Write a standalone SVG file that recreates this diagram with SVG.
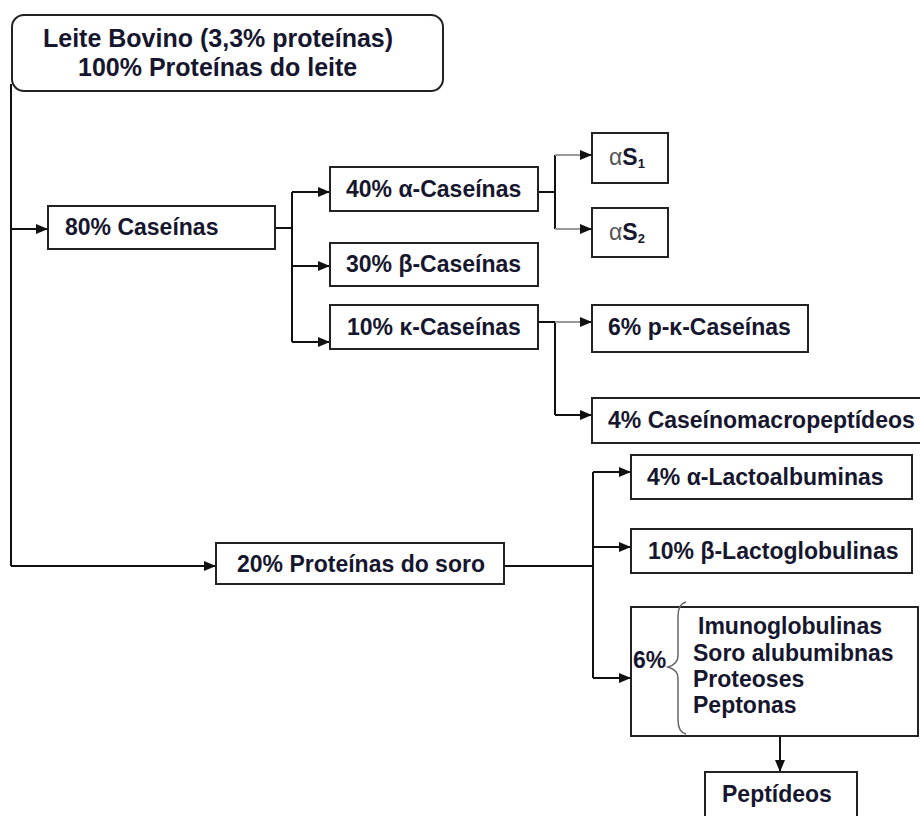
<svg xmlns="http://www.w3.org/2000/svg" width="920" height="816" viewBox="0 0 920 816">
<defs>
<marker id="ah" markerUnits="userSpaceOnUse" markerWidth="12" markerHeight="10" refX="12" refY="5" orient="auto">
<path d="M0,0 L12,5 L0,10 z" fill="#111"/>
</marker>
<style>
.box{fill:#fff;stroke:#222;stroke-width:2}
.t{font-family:"Liberation Sans",Arial,sans-serif;font-weight:bold;font-size:23px;fill:#16162e}
.top{font-size:25px}
.c{fill:none;stroke:#111;stroke-width:2}
.g{fill:none;stroke:#999;stroke-width:2}
.arr{marker-end:url(#ah)}
.br{fill:none;stroke:#666;stroke-width:1.5}
</style>
</defs>
<rect width="920" height="816" fill="#fff"/>
<g id="connectors">
<path class="c" d="M11,84 V566"/>
<path class="c arr" d="M11,566 H216"/>
<path class="c arr" d="M11,229 H48"/>
<path class="c" d="M275,228 H292 M292,192 V342"/>
<path class="c arr" d="M292,192 H330"/>
<path class="c arr" d="M292,266 H330"/>
<path class="c arr" d="M292,342 H330"/>
<path class="c" d="M538,192 H555 M555,155 V229"/>
<path class="g" d="M555,155 H581 M555,229 H581"/>
<path class="c arr" d="M580,155 H592"/>
<path class="c arr" d="M580,229 H592"/>
<path class="c" d="M538,322 H555 V415"/>
<path class="g" d="M555,322 H581"/>
<path class="c arr" d="M580,322 H592"/>
<path class="c arr" d="M555,415 H592"/>
<path class="c" d="M504,566 H593 M593,472 V678"/>
<path class="c arr" d="M593,472 H631"/>
<path class="c arr" d="M593,547 H631"/>
<path class="c arr" d="M593,678 H631"/>
<path class="c arr" d="M780,736 V772"/>
</g>
<g id="leite">
<rect class="box" x="12" y="15" width="431" height="76" rx="12"/>
<text class="t top" x="43" y="47">Leite Bovino (3,3% proteínas)</text>
<text class="t top" x="78" y="76">100% Proteínas do leite</text>
</g>
<g id="caseinas">
<rect class="box" x="48" y="206" width="227" height="43"/>
<text class="t" x="65" y="235">80% Caseínas</text>
</g>
<g id="alfa-caseinas">
<rect class="box" x="330" y="167" width="208" height="44"/>
<text class="t" x="346" y="197">40% α-Caseínas</text>
</g>
<g id="beta-caseinas">
<rect class="box" x="330" y="243" width="208" height="43"/>
<text class="t" x="346" y="272">30% β-Caseínas</text>
</g>
<g id="kappa-caseinas">
<rect class="box" x="330" y="305" width="208" height="44"/>
<text class="t" x="347" y="335">10% κ-Caseínas</text>
</g>
<g id="as1">
<rect class="box" x="592" y="133" width="76" height="50"/>
<text class="t" x="609" y="165"><tspan font-weight="normal" fill="#555">α</tspan>S<tspan font-size="13" dy="3">1</tspan></text>
</g>
<g id="as2">
<rect class="box" x="592" y="208" width="76" height="49"/>
<text class="t" x="609" y="240"><tspan font-weight="normal" fill="#555">α</tspan>S<tspan font-size="13" dy="3">2</tspan></text>
</g>
<g id="p-kappa">
<rect class="box" x="592" y="305" width="216" height="47"/>
<text class="t" x="608" y="335">6% p-κ-Caseínas</text>
</g>
<g id="caseinomacro">
<rect class="box" x="592" y="398" width="340" height="45"/>
<text class="t" x="608" y="428">4% Caseínomacropeptídeos</text>
</g>
<g id="soro">
<rect class="box" x="216" y="543" width="288" height="41"/>
<text class="t" x="237" y="572">20% Proteínas do soro</text>
</g>
<g id="lactoalbuminas">
<rect class="box" x="631" y="455" width="281" height="44"/>
<text class="t" x="647" y="485">4% α-Lactoalbuminas</text>
</g>
<g id="lactoglobulinas">
<rect class="box" x="631" y="529" width="281" height="44"/>
<text class="t" x="648" y="559">10% β-Lactoglobulinas</text>
</g>
<g id="outras">
<rect class="box" x="631" y="607" width="287" height="129"/>
<text class="t" x="633" y="668">6%</text>
<path class="br" d="M686,602 Q678,604 678,616 V656 Q678,664 668,667 Q678,670 678,678 V720 Q678,732 686,734"/>
<text class="t" x="698" y="634" font-size="22.5">Imunoglobulinas</text>
<text class="t" x="693" y="661" font-size="22.5">Soro alubumibnas</text>
<text class="t" x="693" y="687" font-size="22.5">Proteoses</text>
<text class="t" x="693" y="713" font-size="22.5">Peptonas</text>
</g>
<g id="peptideos">
<rect class="box" x="705" y="772" width="152" height="60"/>
<text class="t" x="722" y="802">Peptídeos</text>
</g>
</svg>
